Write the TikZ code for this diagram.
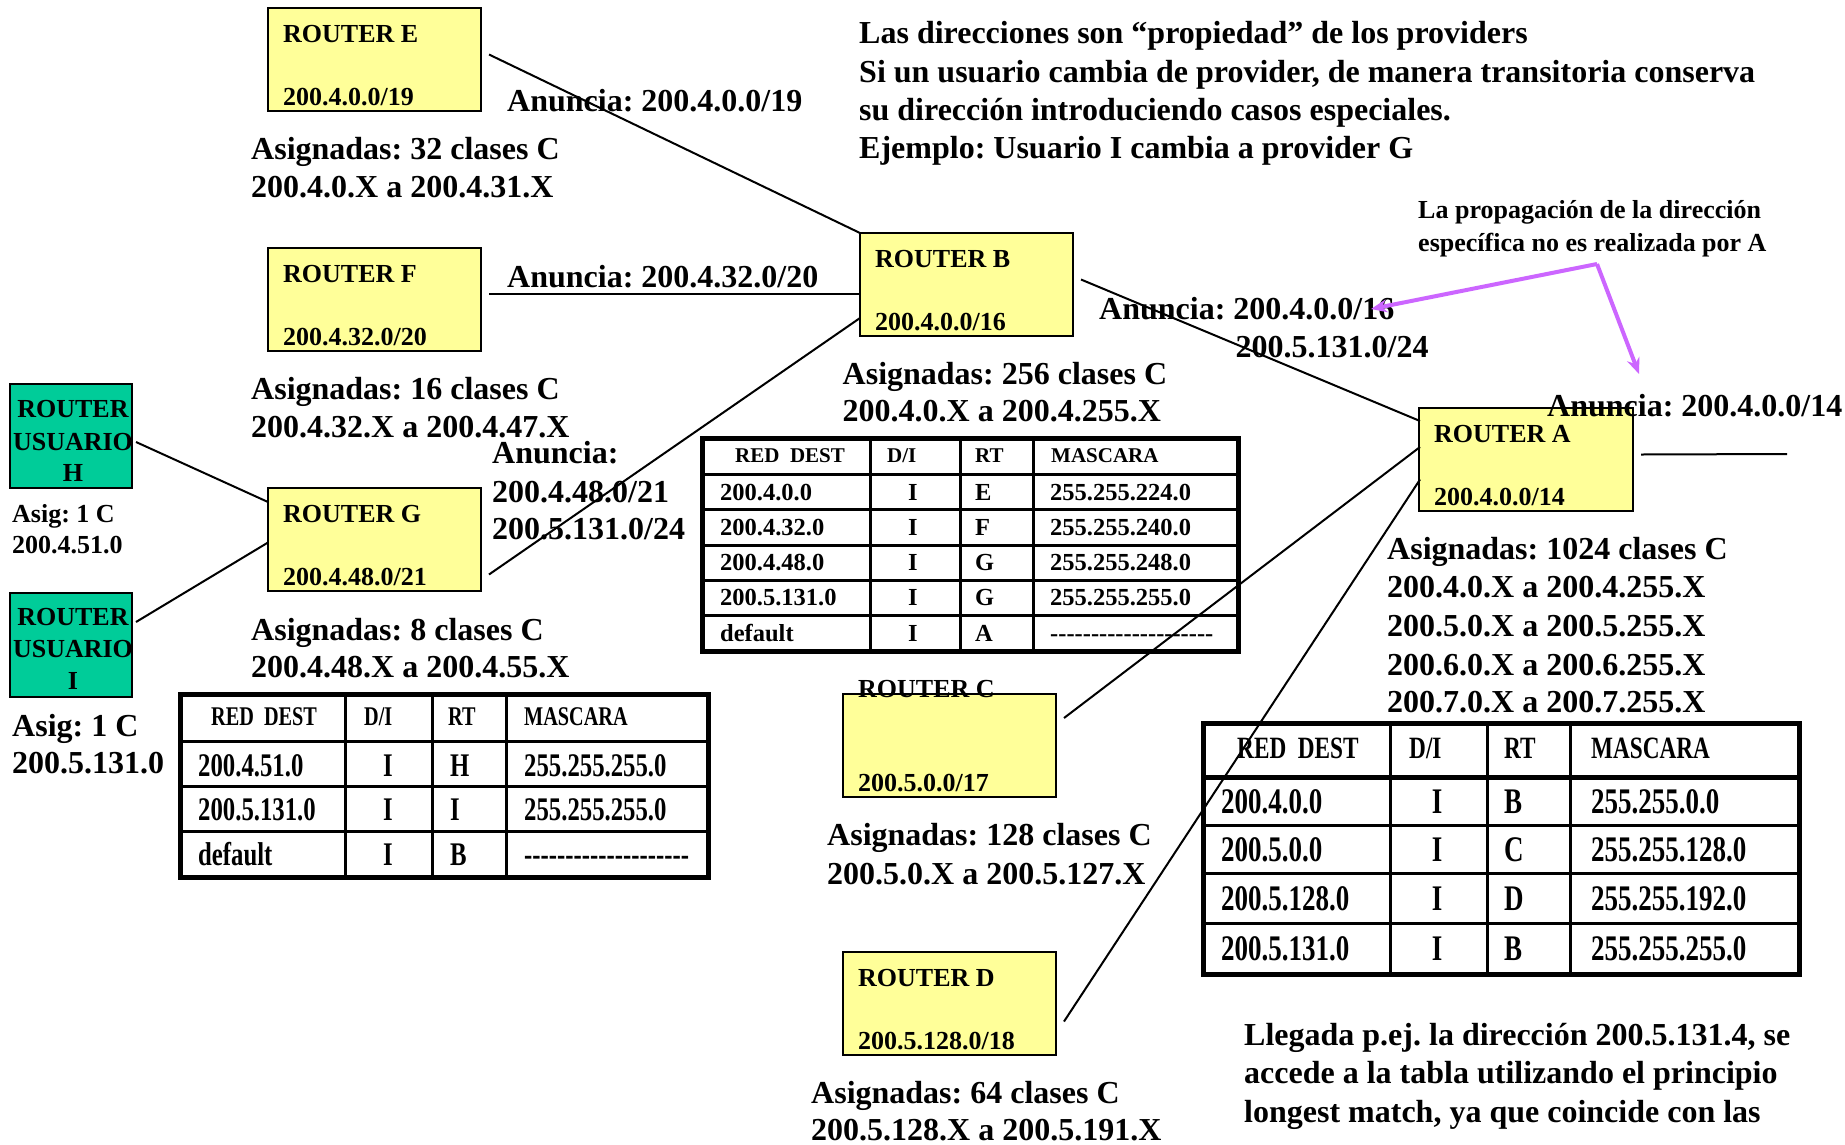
\documentclass[tikz,border=0pt]{standalone}
\usepackage{fontspec}
\setmainfont{Liberation Serif}
\newfontfamily\condserif[FakeStretch=0.75]{Liberation Serif}
\usetikzlibrary{calc,arrows.meta}
\frenchspacing

\definecolor{routeryellow}{HTML}{FFFF99}
\definecolor{usergreen}{HTML}{00CC99}
\definecolor{notecol}{HTML}{CC66FF}

% a row of plain hyphens (kerns keep them from turning into dashes)
\newcommand\dashrow{\foreach \k in {1,...,20}{-\kern0pt}}

\tikzset{
  router/.style={draw=black, line width=2.5pt, fill=routeryellow, minimum width=213pt,
    minimum height=103pt, anchor=north west, inner sep=0pt, outer sep=0pt},
  userbox/.style={draw=black, line width=2.5pt, fill=usergreen, minimum width=122pt,
    minimum height=104pt, anchor=north west, inner sep=0pt, outer sep=0pt},
  link/.style={line width=2pt},
  lbl/.style={anchor=base west, inner sep=0pt, font=\fontsize{32}{38}\selectfont\bfseries},
  rlbl/.style={anchor=base west, inner sep=0pt, font=\fontsize{26}{30}\selectfont\bfseries},
  ulbl/.style={anchor=base, inner sep=0pt, font=\fontsize{26}{30}\selectfont\bfseries},
  tabframe/.style={line width=5pt},
  tabrule/.style={line width=3pt},
  headB/.style={anchor=west, inner sep=0pt, text height=13.9pt, text depth=0pt,
    font=\fontsize{21}{25}\selectfont\bfseries},
  cellB/.style={anchor=west, inner sep=0pt, text height=16.5pt, text depth=0pt,
    font=\fontsize{24.5}{28}\selectfont\bfseries},
  headG/.style={anchor=west, inner sep=0pt, text height=17.9pt, text depth=0pt,
    font=\condserif\fontsize{27}{31}\selectfont\bfseries},
  cellG/.style={anchor=west, inner sep=0pt, text height=22.3pt, text depth=0pt,
    font=\condserif\fontsize{33}{38}\selectfont\bfseries},
  headA/.style={anchor=west, inner sep=0pt, text height=20.5pt, text depth=0pt,
    font=\condserif\fontsize{31}{36}\selectfont\bfseries},
  cellA/.style={anchor=west, inner sep=0pt, text height=24.3pt, text depth=0pt,
    font=\condserif\fontsize{36}{41}\selectfont\bfseries},
  notearrow/.style={draw=notecol, line width=4pt, -{Stealth[length=16pt,width=13pt]}},
  notetext/.style={anchor=base west, inner sep=0pt, font=\fontsize{26}{30}\selectfont\bfseries},
}

\begin{document}
\begin{tikzpicture}[x=1pt,y=-1pt]
\fill[white] (0,0) rectangle (1845,1144);
\useasboundingbox (0,0) rectangle (1845,1144);

% ---------------- routers ----------------
\node[router] (E) at (268,8) {};
\node[router] (F) at (268,248) {};
\node[router] (G) at (268,488) {};
\node[router] (B) at (860,233) {};
\node[router, minimum width=214pt] (A) at (1419,408) {};
\node[router] (C) at (843,694) {};
\node[router] (D) at (843,952) {};
\node[userbox] (H) at (10,384) {};
\node[userbox] (I) at (10,593) {};

% ---------------- links ----------------
\coordinate (Aout) at (1787,454);
\draw[link] ($(E.east)+(8,-5)$) -- (B.north west);
\draw[link] ($(F.east)+(8,-6)$) coordinate (f1) -- (f1 -| B.west);
\draw[link] ($(G.east)+(8,35)$) -- ($(B.south west)+(0,-18)$);
\draw[link] ($(H.east)+(4,6)$) -- ($(G.north west)+(0,14)$);
\draw[link] ($(I.east)+(4,-23)$) -- ($(G.west)+(0,3)$);
\draw[link] ($(B.east)+(8,-5)$) -- ($(A.north west)+(1,13)$);
\draw[link] ($(A.north west)+(1,39)$) -- ($(C.north east)+(8,24)$);
\draw[link] ($(A.west)+(1,20)$) -- ($(D.east)+(8,18)$);
\draw[link] ($(A.east)+(8,-5)$) -- (Aout);

% ---------------- router labels ----------------
\foreach \r/\nm/\net in {E/E/200.4.0.0\slash 19, F/F/200.4.32.0\slash 20, G/G/200.4.48.0\slash 21,
    B/B/200.4.0.0\slash 16, A/A/200.4.0.0\slash 14, D/D/200.5.128.0\slash 18}{
  \node[rlbl] (\r-name) at ($(\r.north west)+(15,34)$) {ROUTER \nm};
  \node[rlbl] (\r-net) at ($(\r.north west)+(15,97)$) {\net};
}
\node[rlbl] (C-name) at ($(C.north west)+(15,3)$) {ROUTER C};
\node[rlbl] (C-net) at ($(C.north west)+(15,97)$) {200.5.0.0/17};

\node[ulbl] (H-l1) at (73,417) {ROUTER};
\node[ulbl] (H-l2) at (73,450) {USUARIO};
\node[ulbl] (H-l3) at (73,481) {H};
\node[ulbl] (I-l1) at (73,625) {ROUTER};
\node[ulbl] (I-l2) at (73,657) {USUARIO};
\node[ulbl] (I-l3) at (73,689) {I};

% ---------------- texts ----------------
\node[lbl] (top1) at (859,43) {Las direcciones son “propiedad” de los providers};
\node[lbl] (top2) at (859,82) {Si un usuario cambia de provider, de manera transitoria conserva};
\node[lbl] (top3) at (859,120) {su dirección introduciendo casos especiales.};
\node[lbl] (top4) at (859,158) {Ejemplo: Usuario I cambia a provider G};

\node[lbl] (annE) at (507,111) {Anuncia: 200.4.0.0/19};
\node[lbl] (asigE1) at (251,159) {Asignadas: 32 clases C};
\node[lbl] (asigE2) at (251,197) {200.4.0.X a 200.4.31.X};

\node[lbl] (annF) at (507,287.5) {Anuncia: 200.4.32.0/20};
\node[lbl] (asigF1) at (251,399) {Asignadas: 16 clases C};
\node[lbl] (asigF2) at (251,437) {200.4.32.X a 200.4.47.X};

\node[lbl] (annG1) at (492,463) {Anuncia:};
\node[lbl] (annG2) at (492,502) {200.4.48.0/21};
\node[lbl] (annG3) at (492,539) {200.5.131.0/24};
\node[lbl] (asigG1) at (251,640.5) {Asignadas: 8 clases C};
\node[lbl] (asigG2) at (251,677) {200.4.48.X a 200.4.55.X};

\node[lbl] (asigB1) at (842.5,384) {Asignadas: 256 clases C};
\node[lbl] (asigB2) at (842.5,421.7) {200.4.0.X a 200.4.255.X};
\node[lbl] (annB1) at (1099,319) {Anuncia: 200.4.0.0/16};
\node[lbl] (annB2) at (1235.5,357) {200.5.131.0/24};

\node[lbl] (annA) at (1547,416) {Anuncia: 200.4.0.0/14};
\node[lbl] (asigA1) at (1387,559) {Asignadas: 1024 clases C};
\node[lbl] (asigA2) at (1387,597) {200.4.0.X a 200.4.255.X};
\node[lbl] (asigA3) at (1387,636) {200.5.0.X a 200.5.255.X};
\node[lbl] (asigA4) at (1387,675) {200.6.0.X a 200.6.255.X};
\node[lbl] (asigA5) at (1387,712) {200.7.0.X a 200.7.255.X};

\node[lbl] (asigC1) at (827,845) {Asignadas: 128 clases C};
\node[lbl] (asigC2) at (827,884) {200.5.0.X a 200.5.127.X};
\node[lbl] (asigD1) at (811,1103) {Asignadas: 64 clases C};
\node[lbl] (asigD2) at (811,1140.6) {200.5.128.X a 200.5.191.X};

\node[lbl] (long1) at (1244,1045) {Llegada p.ej. la dirección 200.5.131.4, se};
\node[lbl] (long2) at (1244,1083) {accede a la tabla utilizando el principio};
\node[lbl] (long3) at (1244,1122) {longest match, ya que coincide con las};

\node[rlbl] (asigH1) at (12,522) {Asig: 1 C};
\node[rlbl] (asigH2) at (12,553) {200.4.51.0};
\node[lbl] (asigI1) at (12,736) {Asig: 1 C};
\node[lbl] (asigI2) at (12,773.5) {200.5.131.0};

% ---------------- routing table of B ----------------
\draw[tabframe] (702,438) rectangle (1238,651);
\foreach \xx in {870,960,1033} \draw[tabrule] (\xx,438) -- (\xx,651);
\foreach \yy in {474,509.5,545,580,615.5} \draw[tabrule] (702,\yy) -- (1238,\yy);
\node[headB] (tB-h1) at (735,456) {RED~ DEST};
\node[headB] (tB-h2) at (887,456) {D/I};
\node[headB] (tB-h3) at (975,456) {RT};
\node[headB] (tB-h4) at (1051,456) {MASCARA};
\foreach [count=\r] \yy/\a/\b/\c in {492/200.4.0.0/E/255.255.224.0, 527/200.4.32.0/F/255.255.240.0,
    562/200.4.48.0/G/255.255.248.0, 597/200.5.131.0/G/255.255.255.0, 633/default/A/\dashrow}{
  \node[cellB] (tB-\r-1) at (720,\yy) {\a};
  \node[cellB, anchor=center] (tB-\r-2) at (913,\yy) {I};
  \node[cellB] (tB-\r-3) at (975,\yy) {\b};
  \node[cellB] (tB-\r-4) at (1050,\yy) {\c};
}

% ---------------- routing table of G ----------------
\draw[tabframe] (180,694) rectangle (708,877);
\foreach \xx in {345,432,506} \draw[tabrule] (\xx,694) -- (\xx,877);
\foreach \yy in {741,786,831} \draw[tabrule] (180,\yy) -- (708,\yy);
\node[headG] (tG-h1) at (211,717) {RED~ DEST};
\node[headG] (tG-h2) at (364,717) {D/I};
\node[headG] (tG-h3) at (448,717) {RT};
\node[headG] (tG-h4) at (524,717) {MASCARA};
\foreach [count=\r] \yy/\a/\b/\c in {765/200.4.51.0/H/255.255.255.0, 809/200.5.131.0/I/255.255.255.0,
    854/default/B/\dashrow}{
  \node[cellG] (tG-\r-1) at (198,\yy) {\a};
  \node[cellG, anchor=center] (tG-\r-2) at (388,\yy) {I};
  \node[cellG] (tG-\r-3) at (450,\yy) {\b};
  \node[cellG] (tG-\r-4) at (524,\yy) {\c};
}

% ---------------- routing table of A ----------------
\draw[tabframe] (1203,723) rectangle (1799,974);
\foreach \xx in {1390,1487,1570} \draw[tabrule] (\xx,723) -- (\xx,974);
\draw[tabframe] (1203,777) -- (1799,777);
\foreach \yy in {825,873,923} \draw[tabrule] (1203,\yy) -- (1799,\yy);
\node[headA] (tA-h1) at (1237,748) {RED~ DEST};
\node[headA] (tA-h2) at (1409,748) {D/I};
\node[headA] (tA-h3) at (1504,748) {RT};
\node[headA] (tA-h4) at (1591,748) {MASCARA};
\foreach [count=\r] \yy/\a/\b/\c in {801/200.4.0.0/B/255.255.0.0, 849/200.5.0.0/C/255.255.128.0,
    898/200.5.128.0/D/255.255.192.0, 948/200.5.131.0/B/255.255.255.0}{
  \node[cellA] (tA-\r-1) at (1221,\yy) {\a};
  \node[cellA, anchor=center] (tA-\r-2) at (1437,\yy) {I};
  \node[cellA] (tA-\r-3) at (1504,\yy) {\b};
  \node[cellA] (tA-\r-4) at (1591,\yy) {\c};
}

% ---------------- note on propagation ----------------
\node[notetext] (note1) at (1418,218.5) {La propagación de la dirección};
\node[notetext] (note2) at (1418,251.4) {específica no es realizada por A};
\coordinate (noteroot) at (1597,264);
\coordinate (noteL) at (1371,309);
\coordinate (noteR) at (1639,374);
\draw[notearrow] (noteroot) -- (noteL);
\draw[notearrow] (noteroot) -- (noteR);
\end{tikzpicture}
\end{document}
